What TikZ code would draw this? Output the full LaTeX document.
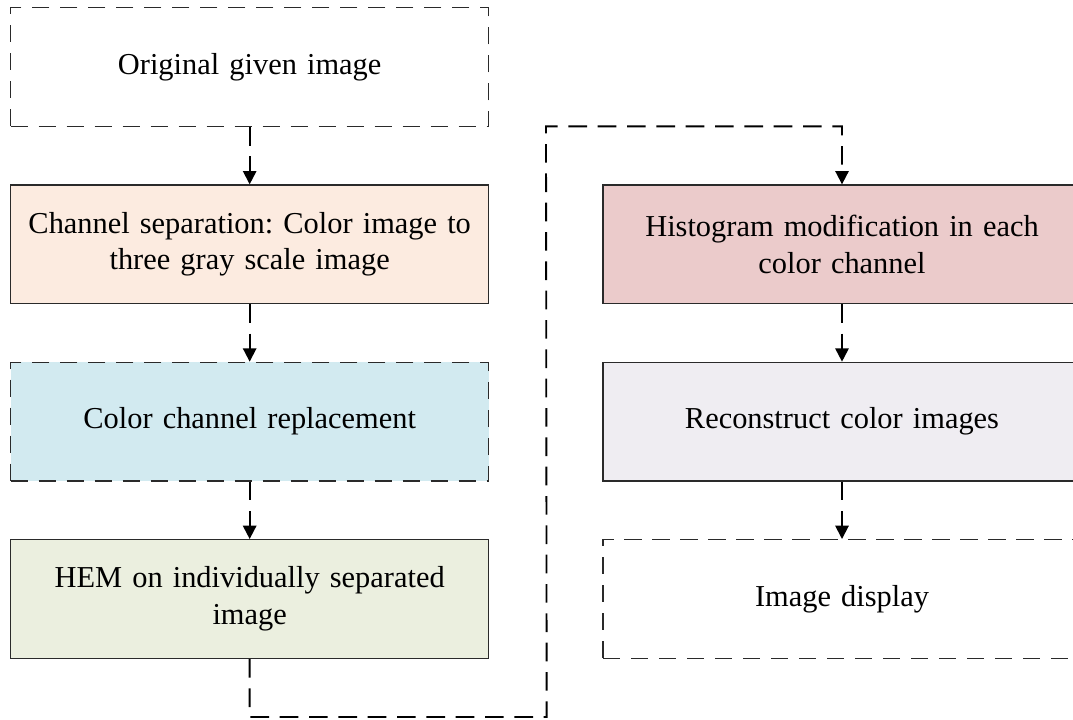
\documentclass[tikz,border=0pt]{standalone}
\usepackage{fontspec}
\setmainfont{Liberation Serif}
\usetikzlibrary{positioning,arrows.meta,calc}
\definecolor{peach}{HTML}{FCEBE0}
\definecolor{skyblue}{HTML}{D2EAF0}
\definecolor{olivegreen}{HTML}{EBEFDF}
\definecolor{rosepink}{HTML}{EBCBCB}
\definecolor{lavender}{HTML}{EFEDF2}
\definecolor{edge}{HTML}{2A2A2A}
\tikzstyle{line} = [draw, line width=1.4pt, dash pattern=on 14pt off 8pt, -{Triangle[length=10pt,width=10pt]}]
\tikzstyle{solidbox} = [rectangle, draw=edge, line width=1pt, minimum width=358.5pt, minimum height=89pt, text width=350pt, align=center, inner sep=0pt, font=\fontsize{22.8}{27.5}\selectfont, node distance=43pt]
\tikzstyle{dashbox} = [solidbox, dash pattern=on 13pt off 8pt]

\begin{document}
\frenchspacing
\begin{tikzpicture}[x=0.75pt, y=-0.75pt]
		\useasboundingbox (0,0) rectangle (1073,719);

		\node [dashbox, anchor=north west] (orig) at (10,7) {Original given image};
		\node [solidbox, fill=peach, below=of orig] (chan) {Channel separation: Color image to\\three gray scale image};
		\node [dashbox, fill=skyblue, below=of chan] (repl) {Color channel replacement};
		\node [solidbox, fill=olivegreen, below=of repl] (hem) {HEM on individually separated\\image};

		\node [solidbox, fill=rosepink, right=84.75pt of chan] (hist) {Histogram modification in each\\color channel};
		\node [solidbox, fill=lavender, below=of hist] (recon) {Reconstruct color images};
		\node [dashbox, below=of recon] (disp) {Image display};

		% turn points of the long link
		\coordinate (low) at ($(hem.south)+(297,58)$);
		\coordinate (high) at ($(hist.north)+(-296,-58)$);

		\path [line] (orig) -- (chan);
		\path [line] (chan) -- (repl);
		\path [line] (repl) -- (hem);
		\path [line] (hem.south) |- (low) -- (high) -| (hist.north);
		\path [line] (hist) -- (recon);
		\path [line] (recon) -- (disp);
\end{tikzpicture}
\end{document}
